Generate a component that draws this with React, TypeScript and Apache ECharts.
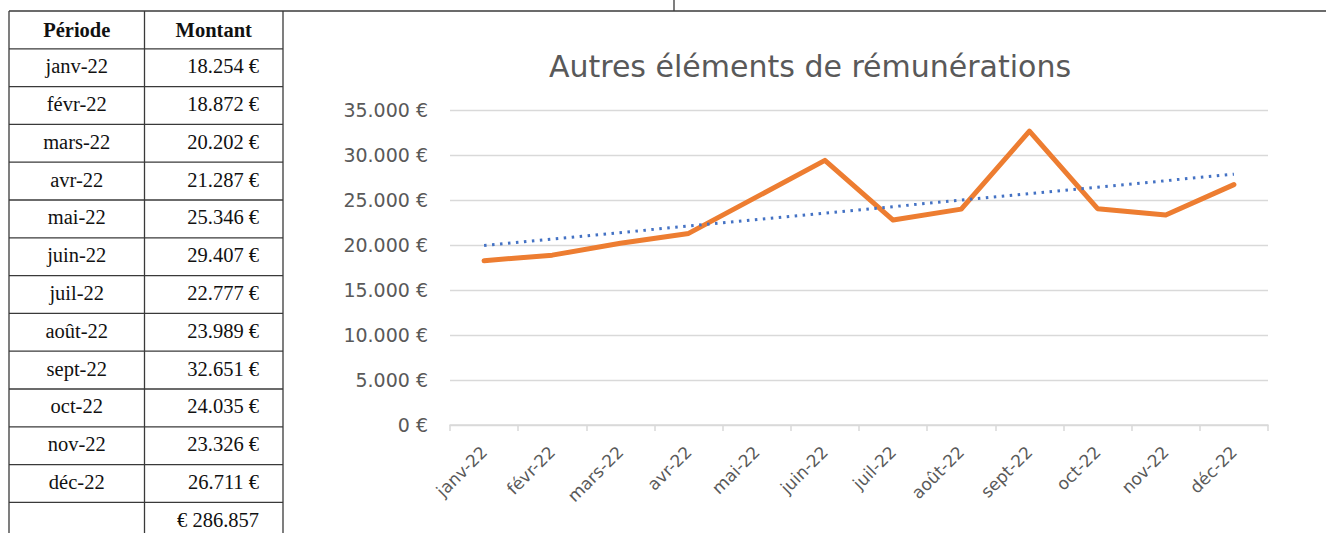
import React, { useEffect, useRef } from "react";
import * as echarts from "echarts";

// ---- data ----
const periods: string[] = [
  "janv-22", "févr-22", "mars-22", "avr-22", "mai-22", "juin-22",
  "juil-22", "août-22", "sept-22", "oct-22", "nov-22", "déc-22",
];
const amounts: number[] = [
  18254, 18872, 20202, 21287, 25346, 29407,
  22777, 23989, 32651, 24035, 23326, 26711,
];
const tableHeaders: string[] = ["Période", "Montant"];
const chartTitle = "Autres éléments de rémunérations";
const yTicks = { min: 0, max: 35000, interval: 5000 };

const fmt = (n: number) =>
  String(Math.round(n)).replace(/\B(?=(\d{3})+(?!\d))/g, ".");

// Excel-style linear trendline (least squares over the series values)
function linearTrend(vals: number[]) {
  const n = vals.length;
  const xs = vals.map((_, i) => i + 1);
  const mx = xs.reduce((a, b) => a + b, 0) / n;
  const my = vals.reduce((a, b) => a + b, 0) / n;
  let num = 0;
  let den = 0;
  for (let i = 0; i < n; i++) {
    num += (xs[i] - mx) * (vals[i] - my);
    den += (xs[i] - mx) * (xs[i] - mx);
  }
  const slope = num / den;
  const icpt = my - slope * mx;
  return [
    [0, icpt + slope * 1],
    [n - 1, icpt + slope * n],
  ];
}

export default function App() {
  const ref = useRef<HTMLDivElement>(null);

  useEffect(() => {
    if (!ref.current) return;
    const chart = echarts.init(ref.current, undefined, { renderer: "svg" });

    const total = amounts.reduce((a, b) => a + b, 0);
    const rowTexts: [string, string][] = [
      [tableHeaders[0], tableHeaders[1]],
      ...periods.map((p, i) => [p, fmt(amounts[i]) + " €"] as [string, string]),
      ["", "€ " + fmt(total)],
    ];

    const top = 11;
    const rowH = 37.8;
    const xL = 9;
    const xM = 144.5;
    const xR = 283;
    const lineColor = "#3a3a3a";
    const serif = "'Liberation Serif', 'Times New Roman', serif";
    const graphics: any[] = [];
    const ln = (x1: number, y1: number, x2: number, y2: number) =>
      graphics.push({
        type: "line",
        shape: { x1, y1, x2, y2 },
        style: { stroke: lineColor, lineWidth: 1.3 },
        silent: true,
      });
    // horizontal rules
    for (let r = 0; r <= rowTexts.length; r++) {
      const y = top + r * rowH;
      if (r === 0) ln(xL, y, 1326, y);
      else ln(xL, y, xR, y);
    }
    ln(xL, top, xL, 533);
    ln(xM, top, xM, 533);
    ln(xR, top, xR, 533);
    ln(674, 0, 674, top);

    rowTexts.forEach((row, r) => {
      const yc = top + rowH * (r + 0.5) - (r === 0 ? 0 : 1.5);
      const bold = r === 0;
      graphics.push({
        type: "text",
        x: (xL + xM) / 2,
        y: yc,
        style: {
          text: row[0],
          fontFamily: serif,
          fontSize: 20.5,
          fontWeight: bold ? "bold" : "normal",
          fill: "#111",
          align: "center",
          verticalAlign: "middle",
          textAlign: "center",
          textVerticalAlign: "middle",
        },
      });
      graphics.push({
        type: "text",
        x: bold ? (xM + xR) / 2 : xR - 24,
        y: yc,
        style: {
          text: row[1],
          fontFamily: serif,
          fontSize: 20.5,
          fontWeight: bold ? "bold" : "normal",
          fill: "#111",
          align: bold ? "center" : "right",
          verticalAlign: "middle",
          textAlign: bold ? "center" : "right",
          textVerticalAlign: "middle",
        },
      });
    });

    const sans = "'DejaVu Sans', sans-serif";
    const trend = linearTrend(amounts);

    chart.setOption({
      animation: false,
      backgroundColor: "#ffffff",
      title: {
        text: chartTitle,
        left: 805,
        top: 46,
        textAlign: "center",
        textStyle: {
          fontFamily: sans,
          fontSize: 30,
          fontWeight: "normal",
          color: "#595959",
        },
      },
      grid: { left: 450, right: 58, top: 110, bottom: 108 },
      xAxis: {
        type: "category",
        data: periods,
        boundaryGap: true,
        axisLine: { lineStyle: { color: "#d9d9d9", width: 1.5 } },
        axisTick: { show: true, length: 6, lineStyle: { color: "#d9d9d9", width: 1.5 } },
        axisLabel: {
          rotate: 45,
          margin: 24,
          fontFamily: sans,
          fontSize: 17,
          color: "#595959",
          interval: 0,
        },
        splitLine: { show: false },
      },
      yAxis: {
        type: "value",
        min: yTicks.min,
        max: yTicks.max,
        interval: yTicks.interval,
        axisLine: { show: false },
        axisTick: { show: false },
        axisLabel: {
          margin: 22,
          fontFamily: sans,
          fontSize: 19,
          color: "#595959",
          formatter: (v: number) => fmt(v) + " €",
        },
        splitLine: { lineStyle: { color: "#d9d9d9", width: 1.3 } },
      },
      series: [
        {
          name: "Montant",
          type: "line",
          data: amounts,
          symbol: "none",
          z: 2,
          lineStyle: { color: "#ED7D31", width: 5, cap: "round", join: "round" },
        },
        {
          name: "Tendance",
          type: "line",
          data: trend,
          symbol: "none",
          z: 3,
          lineStyle: { color: "#4472C4", width: 3, type: [2.5, 5.5] },
        },
      ],
      graphic: graphics,
    });

    return () => chart.dispose();
  }, []);

  return (
    <div
      ref={ref}
      style={{ position: "absolute", left: 0, top: 0, width: 1326, height: 533 }}
    />
  );
}
